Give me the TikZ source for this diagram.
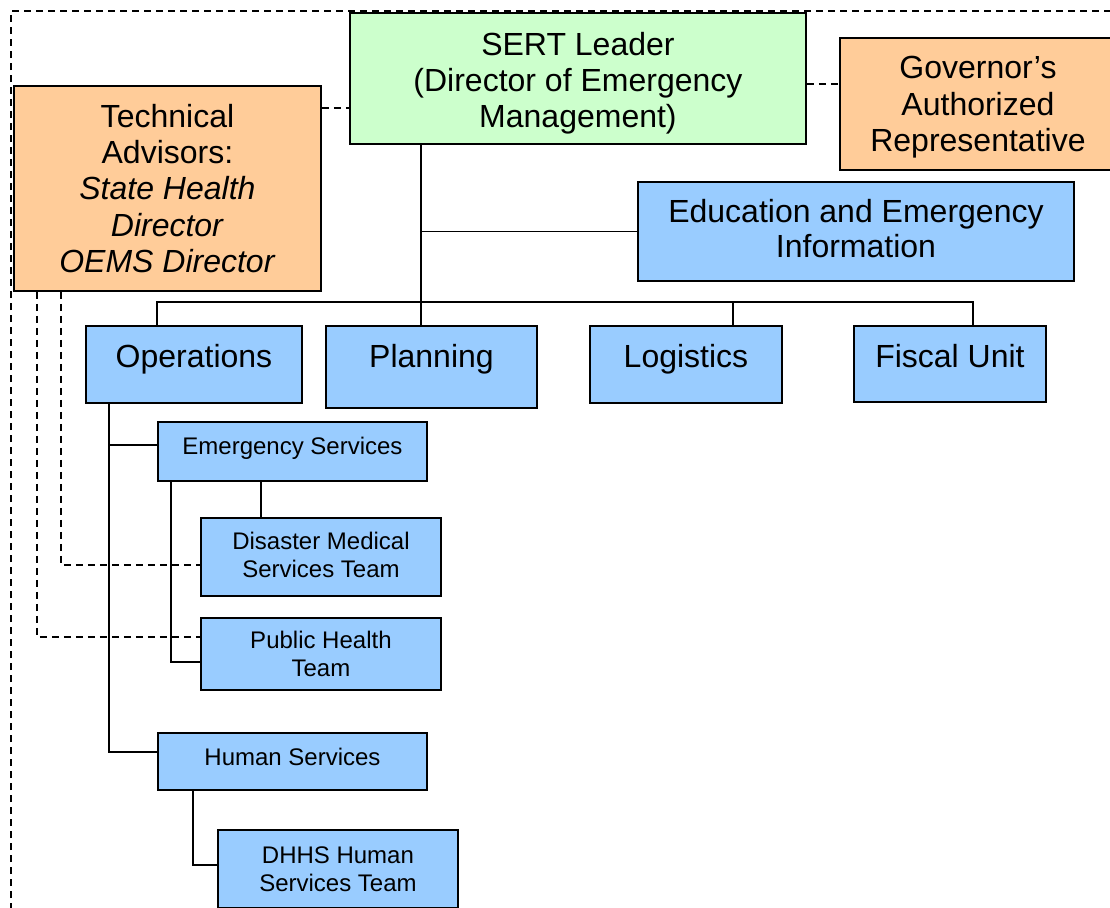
\documentclass[tikz,border=0pt]{standalone}
\usepackage{fontspec}
\setmainfont{Liberation Sans}
\definecolor{advorange}{RGB}{255,204,153}
\definecolor{leadgreen}{RGB}{204,255,204}
\definecolor{unitblue}{RGB}{153,204,255}
\begin{document}
\begin{tikzpicture}[x=1pt,y=-1pt,
  box/.style={draw=black, line width=1.9pt, anchor=north west, align=center,
              inner sep=0pt, text=black},
  big/.style={font=\fontsize{32}{36.4}\selectfont},
  small/.style={font=\fontsize{24}{28}\selectfont},
  advisor/.style={box, big, fill=advorange},
  leader/.style={box, big, fill=leadgreen},
  unit/.style={box, big, fill=unitblue},
  team/.style={box, small, fill=unitblue},
  link/.style={draw=black, line width=1.8pt},
  dashline/.style={draw=black, line width=1.6pt, dash pattern=on 7pt off 5pt}
]
\clip (0,0) rectangle (1110,907);

% outer dashed frame (coordination boundary)
\draw[dashline] (11,910) -- (11,11) -- (1112,11);

% helper positions for connector routing
\coordinate (ty)     at (0,108);
\coordinate (gy)     at (0,84);
\coordinate (spine)  at (421,0);
\coordinate (bus)    at (0,302);
\coordinate (opsdrop) at (157,0);
\coordinate (logdrop) at (733,0);
\coordinate (fisdrop) at (973,0);
\coordinate (opsv)   at (109,0);
\coordinate (esY)    at (0,445);
\coordinate (hsY)    at (0,752);
\coordinate (esdms)  at (261,0);
\coordinate (esph)   at (171,0);
\coordinate (phY)    at (0,662);
\coordinate (hsd)    at (193,0);
\coordinate (dhY)    at (0,865);
\coordinate (a1)     at (37,0);
\coordinate (a1y)    at (0,637);
\coordinate (a2)     at (61,0);
\coordinate (a2y)    at (0,565);

% boxes
\node[leader, minimum width=456pt, minimum height=131pt, font=\fontsize{32}{36}\selectfont, text height=105pt] (sert) at (349,12)
  {SERT Leader\\(Director of Emergency\\Management)};
\node[advisor, minimum width=307pt, minimum height=205pt] (tech) at (13,85)
  {Technical\\Advisors:\\\textit{State Health}\\\textit{Director}\\\textit{OEMS Director}};
\node[advisor, minimum width=276pt, minimum height=132pt, text height=102pt] (gov) at (839,37)
  {Governor’s\\Authorized\\Representative};
\node[unit, minimum width=436pt, minimum height=99pt, font=\fontsize{32}{35}\selectfont, text height=52pt] (edu) at (637,181)
  {Education and Emergency\\Information};
\node[unit, minimum width=216pt, minimum height=77pt, text height=23pt, text depth=17pt] (ops) at (85,325) {Operations};
\node[unit, minimum width=211pt, minimum height=82pt, text height=23pt, text depth=22pt] (planning) at (325,325) {Planning};
\node[unit, minimum width=192pt, minimum height=77pt, text height=23pt, text depth=17pt] (logistics) at (589,325) {Logistics};
\node[unit, minimum width=192pt, minimum height=76pt, text height=23pt, text depth=16pt] (fiscal) at (853,325) {Fiscal Unit};
\node[team, minimum width=269pt, minimum height=59pt, text height=17pt, text depth=11pt] (es) at (157,421) {Emergency Services};
\node[team, minimum width=240pt, minimum height=78pt, text height=41.5pt] (dms) at (200,517) {Disaster Medical\\Services Team};
\node[team, minimum width=240pt, minimum height=72pt] (ph) at (200,617) {Public Health\\Team};
\node[team, minimum width=269pt, minimum height=57pt, text height=17pt, text depth=8pt] (hs) at (157,732) {Human Services};
\node[team, minimum width=240pt, minimum height=78pt] (dhhs) at (217,829) {DHHS Human\\Services Team};

% advisory (dashed) relations
\draw[dashline] (tech.east |- ty) -- (sert.west |- ty);
\draw[dashline] (sert.east |- gy) -- (gov.west |- gy);
\draw[dashline] (a1 |- tech.south) -- (a1 |- a1y) -- (ph.west |- a1y);
\draw[dashline] (a2 |- tech.south) -- (a2 |- a2y) -- (dms.west |- a2y);

% reporting lines
\draw[link] (spine |- sert.south) -- (spine |- planning.north);
\draw[link] (spine |- edu.west) -- (edu.west);
\draw[link] (opsdrop |- ops.north) -- (opsdrop |- bus) -- (fisdrop |- bus) -- (fisdrop |- fiscal.north);
\draw[link] (logdrop |- bus) -- (logdrop |- logistics.north);
\draw[link] (opsv |- ops.south) -- (opsv |- hsY) -- (hs.west |- hsY);
\draw[link] (opsv |- esY) -- (es.west |- esY);
\draw[link] (esdms |- es.south) -- (esdms |- dms.north);
\draw[link] (esph |- es.south) -- (esph |- phY) -- (ph.west |- phY);
\draw[link] (hsd |- hs.south) -- (hsd |- dhY) -- (dhhs.west |- dhY);
\end{tikzpicture}
\end{document}
